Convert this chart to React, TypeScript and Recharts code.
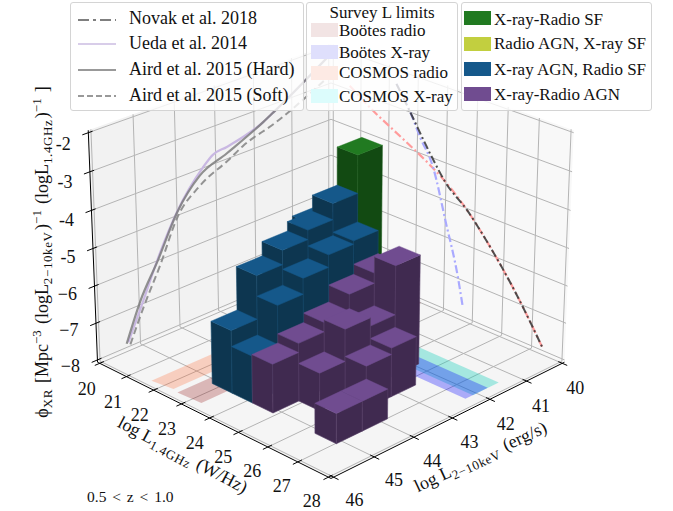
import React from 'react';
import { ScatterChart, Scatter, XAxis, YAxis } from 'recharts';

// ---- data ----
const radioTicks = [20, 21, 22, 23, 24, 25, 26, 27, 28];
const xrayTicks = [40, 41, 42, 43, 44, 45, 46];
const phiTicks = [-8, -7, -6, -5, -4, -3, -2];
const phiTickLabels = ['−8', '−7', '−6', '-5', '-4', '-3', '-2'];

// one entry per bar: bin centre in log L1.4GHz, bin centre in log L2-10keV, log phi, population
const barRadio = [23.195, 23.195, 23.905, 23.905, 23.195, 23.905, 23.195, 23.905, 23.195, 22.485, 23.195, 23.905, 24.615, 26.745, 26.745, 25.325, 26.035, 26.035, 25.325, 24.615, 24.615, 24.615, 25.325, 25.325, 24.615];
const barXray = [41.645, 44.87, 44.87, 44.225, 44.225, 43.58, 43.58, 42.935, 42.935, 42.29, 42.29, 42.29, 44.87, 44.87, 44.225, 44.225, 43.58, 42.935, 43.58, 44.225, 42.935, 43.58, 42.935, 42.29, 42.29];
const barPhi = [-3.11, -6.33, -6.75, -5.72, -5.18, -5.3, -4.8, -4.97, -4.55, -4.9, -4.12, -4.88, -6.71, -7.21, -7.21, -7.0, -6.87, -6.7, -6.15, -6.47, -5.77, -6.22, -6.37, -5.07, -5.5];
const barPop = ['sf', 'agnr', 'agnr', 'agnr', 'agnr', 'agnr', 'agnr', 'agnr', 'agnr', 'agnr', 'agnr', 'agnr', 'agn', 'agn', 'agn', 'agn', 'agn', 'agn', 'agn', 'agn', 'agn', 'agn', 'agn', 'agn', 'agn'];

// curves on the left wall: log L2-10keV, log phi
const airdHardX = [45.34, 44.98, 44.5, 44.0, 43.41, 42.71, 41.76, 41.49, 40];
const airdHardPhi = [-7.9, -6.92, -5.98, -4.92, -4.17, -3.85, -3.38, -3.22, -2.24];
const airdSoftX = [45.25, 44.9, 44.45, 44.0, 43.41, 42.68, 42.28, 41.44, 40];
const airdSoftPhi = [-7.96, -7.11, -6.14, -5.06, -4.44, -4.05, -3.81, -3.52, -2.8];
const uedaX = [45.3, 44.93, 44.5, 44.0, 43.33, 43.07, 42.71, 41.76, 41.49, 40];
const uedaPhi = [-7.88, -7.0, -5.93, -4.9, -3.99, -3.75, -3.68, -3.38, -3.22, -2.24];

// curves on the right wall: log L1.4GHz, log phi
const novakR = [27.34, 26.37, 25.64, 24.73, 23.97, 23.52, 22.74, 22.25];
const novakPhi = [-7.9, -6.68, -5.89, -5.04, -4.51, -4.0, -3.0, -2.38];
const radioLimitR = [27.34, 26.37, 25.64, 24.73, 23.87, 23.45, 22.1, 21.5, 20.6];
const radioLimitPhi = [-7.9, -6.68, -5.89, -5.04, -4.44, -4.22, -3.62, -3.36, -2.89];
const xrayLimitR = [24.66, 24.47, 24.03, 23.55, 23.1, 22.74, 22.25];
const xrayLimitPhi = [-7.72, -6.95, -5.62, -4.24, -3.58, -3.0, -2.38];

// survey limits on the floor
const bootesRadioBand = [22.5, 23.3];
const cosmosRadioBand = [21.6, 22.3];
const bootesXrayBand = [41.7, 42.3];
const cosmosXrayBand = [41.4, 42.1];

const lineLegend = ['Novak et al. 2018', 'Ueda et al. 2014', 'Aird et al. 2015 (Hard)', 'Aird et al. 2015 (Soft)'];
const surveyLegend = ['Boötes radio', 'Boötes X-ray', 'COSMOS radio', 'COSMOS X-ray'];
const popLegend = ['X-ray-Radio SF', 'Radio AGN, X-ray SF', 'X-ray AGN, Radio SF', 'X-ray-Radio AGN'];

// ---- styles ----
const W = 673;
const H = 511;
const FONT = '"Liberation Serif", serif';
const GRID = '#b4b4b4';
const DASH_DOT = '8 3 2 3';

const popColors: Record<string, { top: string; side: string; edge: string }> = {
  sf: { top: '#217a21', side: '#124a12', edge: '#1c5a1c' },
  agnr: { top: '#15588a', side: '#0d3650', edge: '#17496c' },
  agn: { top: '#704c90', side: '#402a50', edge: '#574068' },
};

// ---- camera of the 3d box ----
const ELEV = (25 * Math.PI) / 180;
const DIST = 8.4;
const SCALE = 2770;
const CX = 331;
const CY = 248.5;
const BOX_H = 0.76;
const BAR_DR = 0.355;
const BAR_DX = 0.3225;

const rPad = 8 / 96;
const xPad = 6 / 96;
const zPad = 6 / 96;
const rMin = 20 - rPad;
const rMax = 28 + rPad;
const xMin = 40 - xPad;
const xMax = 46 + xPad;
const zMin = -8 - zPad;
const zMax = -2 + zPad;

function project(r: number, x: number, z: number) {
  const a = (r - 20) / 8 - 0.5;
  const b = (x - 40) / 6 - 0.5;
  const c = ((z + 8) / 6 - 0.5) * BOX_H;
  const q = (a + b) * Math.SQRT1_2;
  const s = (a - b) * Math.SQRT1_2;
  const t = -q * Math.sin(ELEV) + c * Math.cos(ELEV);
  const w = DIST - (q * Math.cos(ELEV) + c * Math.sin(ELEV));
  return { sx: CX + (SCALE * s) / w, sy: CY - (SCALE * t) / w };
}

// ---- shapes ----
function PolyShape(props: any) {
  const { cx, cy, payload } = props;
  const pts = payload.poly
    .map((p: any) => `${cx + p.sx - payload.sx},${cy + p.sy - payload.sy}`)
    .join(' ');
  return <polygon points={pts} fill={payload.fill} stroke={payload.stroke} strokeWidth={payload.sw} strokeLinejoin="round" />;
}

function TextShape(props: any) {
  const { cx, cy, payload } = props;
  return (
    <text
      x={cx}
      y={cy}
      fontFamily={FONT}
      fontSize={payload.size}
      textAnchor={payload.anchor}
      fill="#111"
      transform={payload.rot ? `rotate(${payload.rot} ${cx} ${cy})` : undefined}
    >
      {payload.content}
    </text>
  );
}

const NoDot = () => <g />;

function face(key: string, pts: number[][], fill: string, stroke = 'none', sw = 0) {
  const poly = pts.map((p) => project(p[0], p[1], p[2]));
  return (
    <Scatter
      key={key}
      data={[{ sx: poly[0].sx, sy: poly[0].sy, poly, fill, stroke, sw }]}
      shape={PolyShape}
      isAnimationActive={false}
    />
  );
}

function path(key: string, pts: number[][], stroke: string, width = 1, dash?: string, opacity = 1, smooth = false) {
  return (
    <Scatter
      key={key}
      data={pts.map((p) => project(p[0], p[1], p[2]))}
      line={{ stroke, strokeWidth: width, strokeDasharray: dash, strokeOpacity: opacity }}
      lineJointType={smooth ? 'monotoneX' : 'linear'}
      shape={NoDot}
      isAnimationActive={false}
    />
  );
}

function label(key: string, sx: number, sy: number, content: React.ReactNode, size = 18, anchor = 'middle', rot = 0) {
  return (
    <Scatter
      key={key}
      data={[{ sx, sy, content, size, anchor, rot }]}
      shape={TextShape}
      isAnimationActive={false}
    />
  );
}

function bar(i: number) {
  const r = barRadio[i];
  const x = barXray[i];
  const z = barPhi[i];
  const col = popColors[barPop[i]];
  const r0 = r - BAR_DR;
  const r1 = r + BAR_DR;
  const x0 = x - BAR_DX;
  const x1 = x + BAR_DX;
  return [
    face(`bl${i}`, [[r0, x1, -8], [r1, x1, -8], [r1, x1, z], [r0, x1, z]], col.side, col.edge, 0.6),
    face(`br${i}`, [[r1, x1, -8], [r1, x0, -8], [r1, x0, z], [r1, x1, z]], col.side, col.edge, 0.6),
    face(`bt${i}`, [[r0, x1, z], [r1, x1, z], [r1, x0, z], [r0, x0, z]], col.top, col.top, 0.4),
  ];
}

const sub = (t: string, size = 13, drop = 4, spacing = 0.6) => (
  <>
    <tspan dy={drop} fontSize={size} letterSpacing={spacing}>{t}</tspan>
    <tspan dy={-drop}>{'\u200a'}</tspan>
  </>
);
const sup = (t: string, size = 13, rise = 7) => (
  <>
    <tspan dy={-rise} fontSize={size}>{t}</tspan>
    <tspan dy={rise}>{'\u200a'}</tspan>
  </>
);

function LineHandle({ i }: { i: number }) {
  const styles = [
    { stroke: '#555', dash: '11 4 3 4', w: 1.6 },
    { stroke: '#cbbde2', dash: undefined, w: 1.6 },
    { stroke: '#999', dash: undefined, w: 2 },
    { stroke: '#999', dash: '6 3', w: 1.8 },
  ];
  const st = styles[i];
  return (
    <svg width={40} height={6} style={{ position: 'absolute', left: 7, top: [14, 38, 64, 90][i] }}>
      <line x1={0} y1={3} x2={38} y2={3} stroke={st.stroke} strokeWidth={st.w} strokeDasharray={st.dash} />
    </svg>
  );
}

const legendBox = (left: number, top: number, width: number, height: number): React.CSSProperties => ({
  position: 'absolute',
  left,
  top,
  width,
  height,
  boxSizing: 'border-box',
  background: 'rgba(255,255,255,0.8)',
  border: '1px solid #d4d4d4',
  borderRadius: 3,
  fontFamily: FONT,
  color: '#111',
});

const rowText = (left: number, center: number, size: number): React.CSSProperties => ({
  position: 'absolute',
  left,
  top: center - 10,
  lineHeight: '20px',
  fontSize: size,
  whiteSpace: 'nowrap',
});

export default function App() {
  const order = barRadio
    .map((_, i) => i)
    .sort((p, q) => barRadio[p] / 8 + barXray[p] / 6 - (barRadio[q] / 8 + barXray[q] / 6));

  const surveyFill = ['#f2e4e4', '#dfdffc', '#fdeae4', '#dcfcfc'];
  const surveyTop = [22, 44, 65, 88];
  const surveyText = [30, 52, 72, 96];
  const popFill = ['#217a21', '#c2cf3f', '#15588a', '#704c90'];
  const popTop = [10, 36, 61, 86];
  const popText = [19, 43, 69, 94];
  const lineText = [17, 42, 68, 94];

  return (
    <div style={{ position: 'absolute', left: 0, top: 0, width: W, height: H, background: '#fff' }}>
      <ScatterChart width={W} height={H} margin={{ top: 0, right: 0, bottom: 0, left: 0 }}>
        <XAxis type="number" dataKey="sx" domain={[0, W]} hide allowDataOverflow />
        <YAxis type="number" dataKey="sy" domain={[0, H]} reversed hide allowDataOverflow />

        {/* panes */}
        {face('paneL', [[rMin, xMax, zMin], [rMin, xMin, zMin], [rMin, xMin, zMax], [rMin, xMax, zMax]], '#f2f2f2')}
        {face('paneR', [[rMin, xMin, zMin], [rMax, xMin, zMin], [rMax, xMin, zMax], [rMin, xMin, zMax]], '#f8f8f8')}
        {face('paneF', [[rMin, xMin, zMin], [rMax, xMin, zMin], [rMax, xMax, zMin], [rMin, xMax, zMin]], '#f5f5f5')}

        {/* grid */}
        {radioTicks.map((r) => path(`gr${r}`, [[r, xMax, zMin], [r, xMin, zMin], [r, xMin, zMax]], GRID))}
        {xrayTicks.map((x) => path(`gx${x}`, [[rMax, x, zMin], [rMin, x, zMin], [rMin, x, zMax]], GRID))}
        {phiTicks.map((z) => path(`gz${z}`, [[rMin, xMax, z], [rMin, xMin, z], [rMax, xMin, z]], GRID))}

        {/* survey limits */}
        {face('cosmosR', [[cosmosRadioBand[0], 45.85, zMin], [cosmosRadioBand[1], 45.78, zMin], [cosmosRadioBand[1], 40, zMin], [cosmosRadioBand[0], 40, zMin]], 'rgba(255,90,30,0.25)')}
        {face('bootesR', [[bootesRadioBand[0], 45.82, zMin], [bootesRadioBand[1], 45.78, zMin], [bootesRadioBand[1], 40, zMin], [bootesRadioBand[0], 40, zMin]], 'rgba(139,0,0,0.25)')}
        {face('cosmosX', [[27.65, cosmosXrayBand[0], zMin], [27.65, cosmosXrayBand[1], zMin], [20, cosmosXrayBand[1], zMin], [20, cosmosXrayBand[0], zMin]], 'rgba(16,205,185,0.35)')}
        {face('bootesX', [[27.65, bootesXrayBand[0], zMin], [27.65, bootesXrayBand[1], zMin], [20, bootesXrayBand[1], zMin], [20, bootesXrayBand[0], zMin]], 'rgba(0,0,255,0.3)')}

        {/* luminosity functions on the walls */}
        {path('ueda', uedaX.map((x, i) => [rMin, x, uedaPhi[i]]), '#c9b8e2', 2.2, undefined, 1, true)}
        {path('hard', airdHardX.map((x, i) => [rMin, x, airdHardPhi[i]]), '#777', 2.2, undefined, 0.8, true)}
        {path('soft', airdSoftX.map((x, i) => [rMin, x, airdSoftPhi[i]]), '#888', 2, '7 4', 0.9, true)}
        {path('radioLim', radioLimitR.map((r, i) => [r, xMin, radioLimitPhi[i]]).reverse(), '#ff9c9c', 2.2, DASH_DOT, 1, true)}
        {path('xrayLim', xrayLimitR.map((r, i) => [r, xMin, xrayLimitPhi[i]]).reverse(), '#aaaaff', 2.2, DASH_DOT, 1, true)}
        {path('novak', novakR.map((r, i) => [r, xMin, novakPhi[i]]).reverse(), '#333', 2, DASH_DOT, 0.85, true)}

        {/* axes */}
        {path('axR', [[rMin, xMax, zMin], [rMax, xMax, zMin]], '#000')}
        {path('axX', [[rMax, xMax, zMin], [rMax, xMin, zMin]], '#000')}
        {path('axZ', [[rMin, xMax, zMin], [rMin, xMax, zMax]], '#000')}
        {radioTicks.map((r) => path(`tr${r}`, [[r, xMax - 0.1, zMin], [r, xMax + 0.12, zMin]], '#000'))}
        {xrayTicks.map((x) => path(`tx${x}`, [[rMax - 0.13, x, zMin], [rMax + 0.16, x, zMin]], '#000'))}
        {phiTicks.map((z) => path(`tz${z}`, [[rMin, xMax - 0.1, z], [rMin, xMax + 0.14, z]], '#000'))}

        {/* bars, far ones first */}
        {order.map((i) => bar(i))}

        {/* tick labels */}
        {radioTicks.map((r) => {
          const p = project(r, xMax, zMin);
          return label(`lr${r}`, p.sx - 13 - (r - 20) * 0.45, p.sy + 31.5 - (r - 20) * 0.25, String(r));
        })}
        {xrayTicks.map((x) => {
          const p = project(rMax, x, zMin);
          return label(`lx${x}`, p.sx + 21 - (46 - x) * 1.33, p.sy + 31 - (x - 40) * 0.3, String(x));
        })}
        {phiTicks.map((z, i) => {
          const p = project(rMin, xMax, z);
          return label(`lz${z}`, p.sx - 17.5, p.sy + 12 + (z + 8) * 0.8, phiTickLabels[i], 18, 'end');
        })}

        {/* axis titles */}
        {label('tR', 180, 460, <>log L{sub('1.4GHz')} (W/Hz)</>, 18, 'middle', 28)}
        {label('tX', 483, 462, <>log L{sub('2\u221210keV')} (erg/s)</>, 18, 'middle', -25)}
        {label('tZ', 48, 252, <>ϕ{sub('XR')} [Mpc{sup('\u22123')} (logL{sub('2\u221210keV')}){sup('\u22121')} (logL{sub('1.4GHz')}){sup('\u22121')} ]</>, 18, 'middle', -90)}
        {label('tNote', 87, 502, <tspan style={{ wordSpacing: 2 }}>0.5 &lt; z &lt; 1.0</tspan>, 15.5, 'start')}
      </ScatterChart>

      {/* legends */}
      <div style={legendBox(70, 2, 234, 109)}>
        {lineLegend.map((t, i) => (
          <React.Fragment key={t}>
            <LineHandle i={i} />
            <div style={rowText(58, lineText[i] - 2, 18)}>{t}</div>
          </React.Fragment>
        ))}
      </div>
      <div style={legendBox(306, 2, 152, 109)}>
        <div style={{ ...rowText(0, 10, 17), width: 150, textAlign: 'center' }}>Survey L limits</div>
        {surveyLegend.map((t, i) => (
          <React.Fragment key={t}>
            <div style={{ position: 'absolute', left: 4, top: surveyTop[i] - 2, width: 25, height: 12, background: surveyFill[i], border: `1px solid ${surveyFill[i]}` }} />
            <div style={rowText(32, surveyText[i] - 2, 17)}>{t}</div>
          </React.Fragment>
        ))}
      </div>
      <div style={legendBox(461, 2, 191, 109)}>
        {popLegend.map((t, i) => (
          <React.Fragment key={t}>
            <div style={{ position: 'absolute', left: 2, top: popTop[i] - 2, width: 27, height: 14, background: popFill[i] }} />
            <div style={rowText(32, popText[i] - 2, 17)}>{t}</div>
          </React.Fragment>
        ))}
      </div>
    </div>
  );
}
